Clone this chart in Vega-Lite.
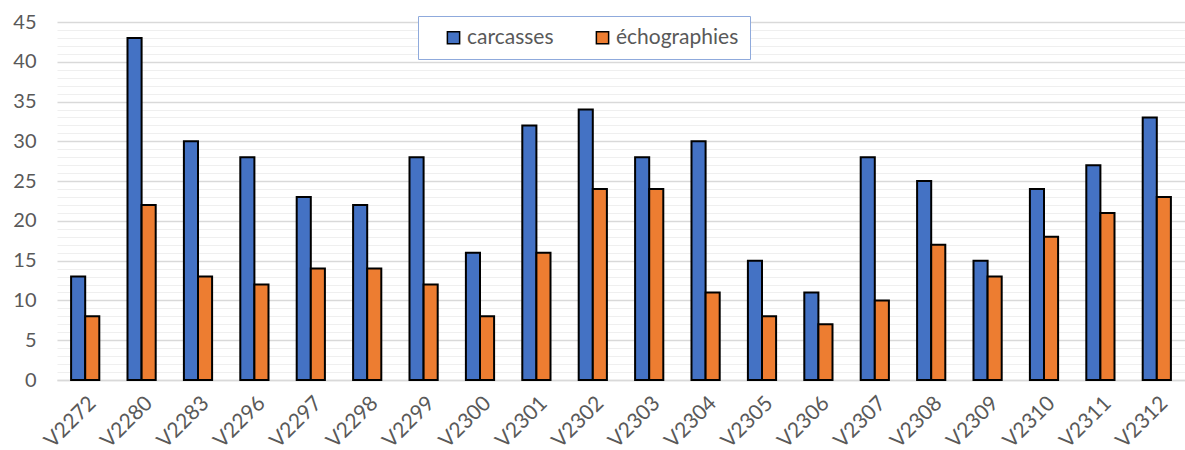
{
  "$schema": "https://vega.github.io/schema/vega-lite/v6.json",
  "autosize": "none",
  "width": 1128,
  "height": 358,
  "padding": {"left": 57, "top": 22, "right": 0, "bottom": 70},
  "background": "white",
  "config": {"view": {"stroke": null}, "font": "Lato"},
  "data": {"values": [
    {"id": "V2272", "serie": "carcasses", "n": 13}, {"id": "V2272", "serie": "échographies", "n": 8},
    {"id": "V2280", "serie": "carcasses", "n": 43}, {"id": "V2280", "serie": "échographies", "n": 22},
    {"id": "V2283", "serie": "carcasses", "n": 30}, {"id": "V2283", "serie": "échographies", "n": 13},
    {"id": "V2296", "serie": "carcasses", "n": 28}, {"id": "V2296", "serie": "échographies", "n": 12},
    {"id": "V2297", "serie": "carcasses", "n": 23}, {"id": "V2297", "serie": "échographies", "n": 14},
    {"id": "V2298", "serie": "carcasses", "n": 22}, {"id": "V2298", "serie": "échographies", "n": 14},
    {"id": "V2299", "serie": "carcasses", "n": 28}, {"id": "V2299", "serie": "échographies", "n": 12},
    {"id": "V2300", "serie": "carcasses", "n": 16}, {"id": "V2300", "serie": "échographies", "n": 8},
    {"id": "V2301", "serie": "carcasses", "n": 32}, {"id": "V2301", "serie": "échographies", "n": 16},
    {"id": "V2302", "serie": "carcasses", "n": 34}, {"id": "V2302", "serie": "échographies", "n": 24},
    {"id": "V2303", "serie": "carcasses", "n": 28}, {"id": "V2303", "serie": "échographies", "n": 24},
    {"id": "V2304", "serie": "carcasses", "n": 30}, {"id": "V2304", "serie": "échographies", "n": 11},
    {"id": "V2305", "serie": "carcasses", "n": 15}, {"id": "V2305", "serie": "échographies", "n": 8},
    {"id": "V2306", "serie": "carcasses", "n": 11}, {"id": "V2306", "serie": "échographies", "n": 7},
    {"id": "V2307", "serie": "carcasses", "n": 28}, {"id": "V2307", "serie": "échographies", "n": 10},
    {"id": "V2308", "serie": "carcasses", "n": 25}, {"id": "V2308", "serie": "échographies", "n": 17},
    {"id": "V2309", "serie": "carcasses", "n": 15}, {"id": "V2309", "serie": "échographies", "n": 13},
    {"id": "V2310", "serie": "carcasses", "n": 24}, {"id": "V2310", "serie": "échographies", "n": 18},
    {"id": "V2311", "serie": "carcasses", "n": 27}, {"id": "V2311", "serie": "échographies", "n": 21},
    {"id": "V2312", "serie": "carcasses", "n": 33}, {"id": "V2312", "serie": "échographies", "n": 23}
  ]},
  "mark": {"type": "bar", "stroke": "black", "strokeWidth": 2},
  "encoding": {
    "x": {
      "field": "id", "type": "nominal", "sort": null,
      "scale": {"paddingInner": 0.5, "paddingOuter": 0.25},
      "axis": {
        "title": null, "labelAngle": -45, "labelFontSize": 21, "labelColor": "#595959",
        "ticks": false, "domainColor": "#d9d9d9", "domainWidth": 1.5, "labelPadding": 12
      }
    },
    "xOffset": {"field": "serie", "type": "nominal", "scale": {"paddingInner": 0}},
    "y": {
      "field": "n", "type": "quantitative",
      "scale": {"domain": [0, 45], "nice": false},
      "axis": {
        "title": null, "domain": false, "ticks": false,
        "values": [0,1,2,3,4,5,6,7,8,9,10,11,12,13,14,15,16,17,18,19,20,21,22,23,24,25,26,27,28,29,30,31,32,33,34,35,36,37,38,39,40,41,42,43,44,45],
        "labelExpr": "datum.value % 5 === 0 ? datum.label : ''",
        "labelFontSize": 20, "labelColor": "#595959", "labelPadding": 21,
        "gridColor": {"condition": {"test": "datum.value % 5 === 0", "value": "#d9d9d9"}, "value": "#efefef"},
        "gridWidth": {"condition": {"test": "datum.value % 5 === 0", "value": 1.5}, "value": 1.2}
      }
    },
    "color": {
      "field": "serie", "type": "nominal",
      "scale": {"domain": ["carcasses", "échographies"], "range": ["#4472C4", "#ED7D31"]},
      "legend": {
        "title": null, "orient": "none", "legendX": 361, "legendY": -6, "direction": "horizontal",
        "fillColor": "white", "strokeColor": "#8faadc", "padding": 11,
        "labelFontSize": 21, "labelColor": "#595959", "symbolType": "square", "symbolSize": 150,
        "symbolStrokeColor": "black", "symbolStrokeWidth": 1.5, "columnPadding": 24, "labelOffset": 3,
        "symbolOffset": 14
      }
    }
  }
}
